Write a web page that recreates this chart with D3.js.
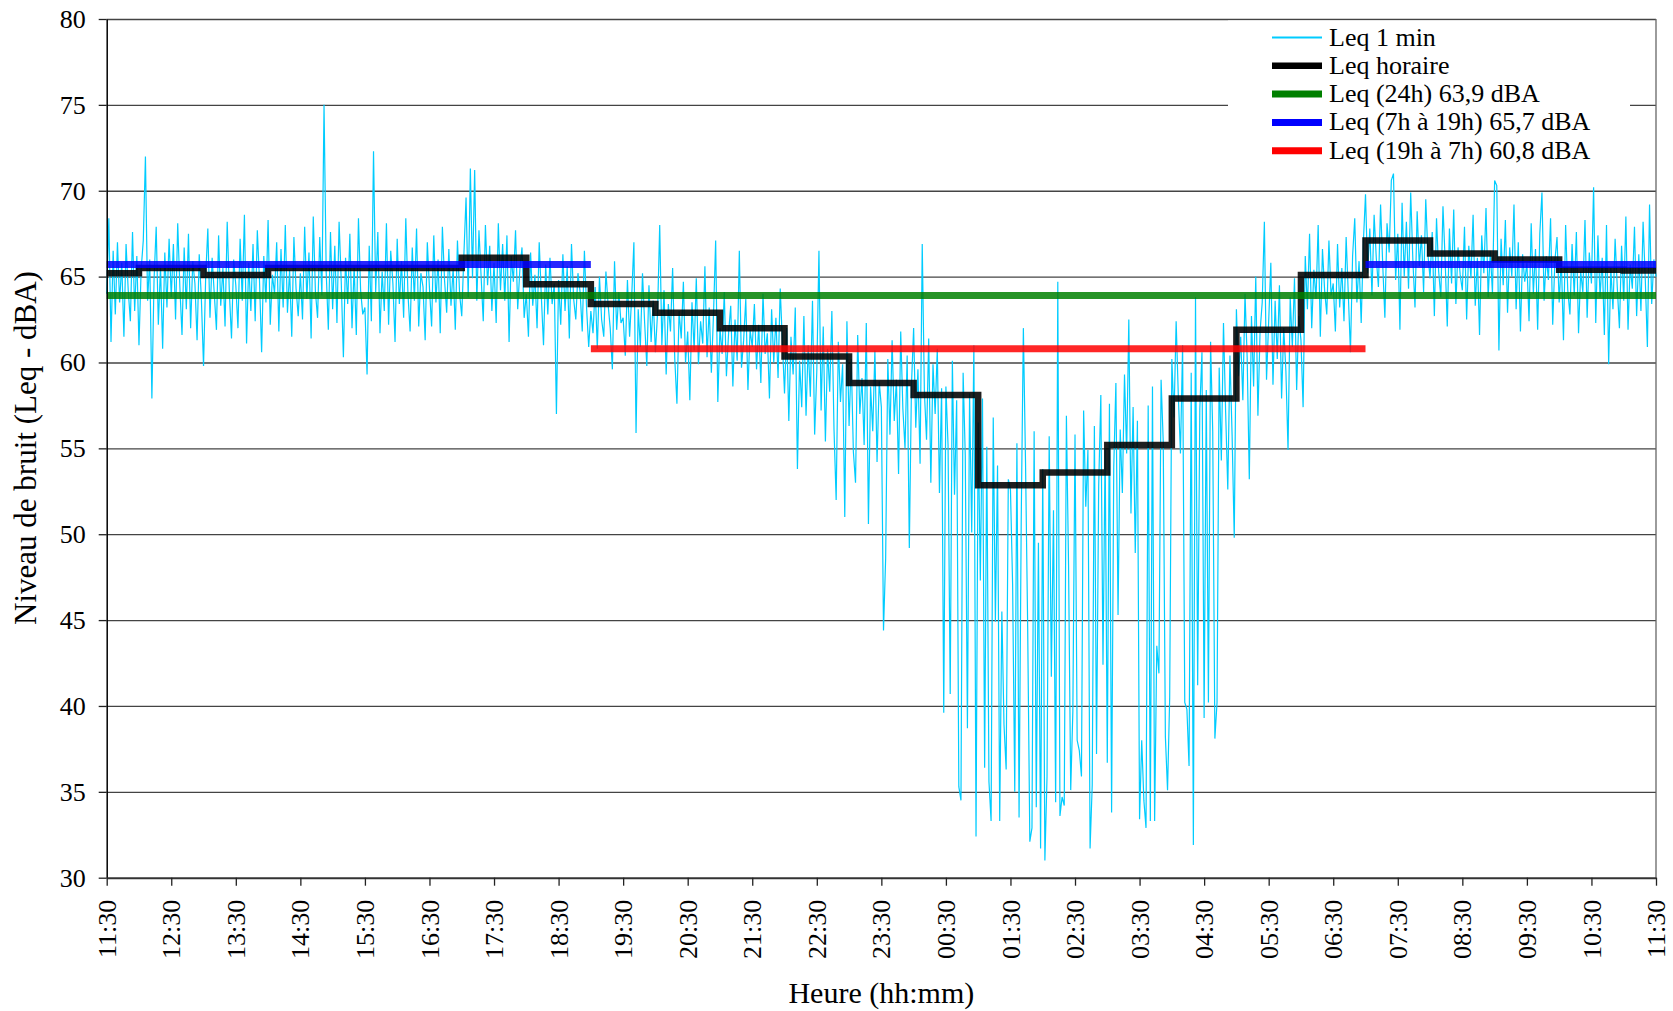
<!DOCTYPE html>
<html>
<head>
<meta charset="utf-8">
<script src="https://cdn.jsdelivr.net/npm/d3@7"></script>
<style>
  html, body { margin: 0; padding: 0; background: #fff; overflow: hidden; }
  #chart svg { display: block; }
  svg text { font-family: "Liberation Serif", "Times New Roman", serif; fill: #000; }
</style>
</head>
<body>
<div id="chart"></div>
<script>
// Tick labels (one per hour, starting 11:30)
const hourLabels = ['11:30', '12:30', '13:30', '14:30', '15:30', '16:30', '17:30', '18:30', '19:30',
  '20:30', '21:30', '22:30', '23:30', '00:30', '01:30', '02:30', '03:30', '04:30', '05:30',
  '06:30', '07:30', '08:30', '09:30', '10:30', '11:30'];
const yTickValues = [30, 35, 40, 45, 50, 55, 60, 65, 70, 75, 80];

// Leq 1 min, sampled every 2 minutes from 11:30 (one row = one hour)
const sampleStepMin = 2;
const leq1min = [
  64.0, 68.4, 61.2, 66.5, 62.8, 67.0, 63.5, 65.8, 61.5, 66.9, 64.2, 62.4, 67.6, 63.0, 66.2, 61.0, 65.4, 67.1, 72.0, 63.6, 66.0, 57.9, 64.8, 67.9, 62.2, 65.6, 60.8, 66.4, 63.2, 67.2, // 11:30
  63.8, 66.9, 62.5, 68.1, 64.4, 61.6, 66.7, 63.1, 67.5, 62.0, 65.9, 64.6, 61.3, 66.3, 63.7, 59.8, 65.0, 67.8, 62.6, 66.1, 64.0, 61.9, 67.4, 63.3, 65.5, 62.1, 68.2, 64.1, 61.4, 66.0, // 12:30
  64.5, 62.0, 67.2, 63.6, 68.6, 61.1, 65.8, 63.0, 66.9, 62.4, 67.7, 64.8, 60.6, 66.2, 63.5, 68.3, 62.2, 65.1, 64.0, 67.0, 61.8, 66.6, 63.2, 68.0, 62.9, 65.4, 61.5, 67.3, 64.3, 62.7, // 13:30
  65.2, 62.5, 67.9, 63.7, 66.4, 61.4, 68.5, 64.1, 62.6, 67.3, 63.9, 75.0, 65.3, 61.9, 67.6, 63.1, 66.8, 62.3, 68.2, 64.7, 60.3, 66.1, 63.4, 67.5, 62.0, 65.6, 61.6, 68.4, 64.2, 62.8, // 14:30
  63.2, 59.3, 66.8, 62.4, 72.3, 64.1, 67.6, 61.7, 65.3, 63.0, 68.1, 62.2, 66.5, 64.6, 61.2, 67.2, 63.4, 65.9, 62.6, 68.4, 64.0, 61.8, 66.7, 63.6, 67.8, 62.1, 65.2, 64.4, 61.3, 67.0, // 15:30
  64.3, 62.1, 67.4, 63.5, 66.0, 61.7, 67.9, 64.8, 62.9, 66.6, 63.3, 65.5, 61.9, 67.1, 64.0, 62.7, 66.3, 69.6, 63.8, 71.3, 64.9, 71.2, 63.6, 67.7, 65.0, 62.4, 68.0, 64.5, 66.8, 63.0, // 16:30
  65.8, 62.3, 68.1, 64.2, 66.9, 63.6, 67.4, 61.2, 66.2, 64.7, 67.7, 63.1, 65.4, 66.7, 62.6, 64.0, 61.5, 66.4, 63.3, 65.1, 62.0, 67.0, 63.8, 61.0, 65.7, 62.8, 66.1, 63.4, 64.6, 57.0, // 17:30
  64.8, 62.2, 66.3, 63.0, 65.6, 61.4, 66.9, 63.7, 62.5, 65.2, 64.1, 61.8, 66.5, 63.2, 60.9, 63.0, 61.7, 64.4, 60.8, 65.0, 62.5, 61.5, 65.3, 63.4, 62.0, 59.6, 65.9, 61.9, 64.1, 62.3, // 18:30
  62.6, 60.4, 64.8, 61.5, 63.9, 67.0, 55.9, 63.1, 60.9, 65.2, 62.3, 59.8, 64.5, 61.2, 63.6, 60.6, 62.9, 68.0, 61.0, 64.2, 59.3, 63.4, 61.8, 65.5, 60.2, 57.6, 63.0, 61.4, 64.7, 60.0, // 19:30
  61.8, 57.8, 63.5, 60.7, 64.9, 59.9, 62.4, 61.1, 65.6, 60.3, 63.2, 59.4, 62.8, 67.1, 57.7, 62.0, 60.5, 64.1, 59.2, 61.7, 63.3, 58.6, 62.5, 60.1, 66.5, 59.7, 61.3, 63.7, 58.4, 61.9, // 20:30
  60.9, 63.4, 59.6, 62.2, 58.8, 64.0, 60.5, 61.7, 57.9, 63.1, 60.0, 62.6, 59.1, 64.3, 61.2, 58.2, 62.0, 56.6, 61.5, 59.3, 63.2, 53.8, 60.1, 57.4, 62.7, 56.9, 61.0, 58.0, 63.6, 55.8, // 21:30
  59.5, 66.5, 57.2, 62.1, 55.4, 60.8, 58.3, 63.0, 56.1, 52.0, 61.2, 57.7, 59.9, 51.0, 62.4, 56.3, 60.2, 54.8, 53.0, 61.6, 57.0, 59.1, 55.2, 62.3, 50.6, 58.6, 56.0, 60.7, 54.2, 58.9, // 22:30
  57.4, 44.4, 48.6, 60.2, 55.8, 61.3, 56.6, 59.0, 53.5, 61.8, 57.3, 55.0, 60.4, 49.2, 58.7, 62.0, 56.2, 59.6, 54.1, 66.9, 58.3, 55.5, 61.4, 53.0, 59.9, 57.0, 60.8, 52.4, 58.5, 39.6, // 23:30
  58.6, 55.2, 40.7, 60.1, 52.3, 57.8, 35.3, 34.5, 59.4, 54.6, 38.7, 58.2, 50.1, 61.0, 32.4, 56.5, 47.3, 57.9, 36.4, 55.1, 35.6, 33.3, 56.8, 44.9, 54.0, 33.3, 45.5, 38.9, 36.3, 53.2, // 00:30
  52.6, 47.1, 35.0, 55.3, 33.5, 50.8, 62.0, 54.2, 44.6, 32.1, 32.9, 56.0, 34.1, 49.5, 31.7, 53.8, 31.0, 35.9, 55.7, 41.7, 51.4, 34.4, 64.7, 33.6, 34.7, 34.2, 56.9, 48.2, 35.1, 39.7, // 01:30
  55.8, 38.0, 37.4, 35.9, 57.2, 51.6, 54.9, 31.7, 35.4, 56.3, 37.2, 52.8, 58.1, 42.4, 55.0, 36.7, 57.6, 33.8, 53.9, 58.8, 45.3, 56.1, 52.4, 59.3, 54.7, 62.5, 51.2, 57.4, 48.9, 56.6, // 02:30
  33.4, 38.0, 34.5, 32.9, 57.5, 33.3, 58.6, 33.3, 43.5, 41.9, 59.0, 55.4, 38.2, 35.1, 40.5, 60.2, 56.8, 62.4, 58.1, 54.7, 61.0, 40.2, 39.8, 36.5, 59.4, 31.9, 63.8, 41.2, 57.3, 60.6, // 03:30
  39.3, 58.4, 40.2, 61.2, 56.0, 38.1, 40.2, 59.7, 54.3, 62.3, 57.1, 52.6, 60.4, 55.8, 49.8, 63.1, 59.2, 61.5, 57.8, 64.0, 60.3, 53.2, 62.7, 58.6, 65.0, 56.9, 61.8, 63.5, 68.2, 59.0, // 04:30
  62.4, 65.8, 58.7, 63.6, 60.2, 64.5, 57.9, 62.0, 59.5, 54.9, 63.8, 60.9, 64.9, 58.4, 62.7, 61.3, 57.4, 66.2, 63.1, 67.5, 62.0, 65.4, 63.7, 68.0, 61.5, 66.6, 64.2, 62.8, 67.1, 63.9, // 05:30
  64.6, 61.8, 66.9, 63.2, 65.5, 62.4, 67.3, 64.0, 60.6, 66.2, 68.4, 63.5, 65.9, 62.3, 67.0, 69.8, 65.2, 67.8, 63.9, 68.6, 66.1, 64.4, 69.2, 65.7, 62.6, 68.1, 66.4, 70.6, 71.0, 64.8, // 06:30
  67.5, 61.9, 69.3, 65.0, 68.2, 64.3, 69.9, 66.0, 63.2, 68.8, 65.6, 67.4, 64.1, 69.5, 66.3, 64.9, 67.6, 62.7, 68.4, 65.3, 63.8, 69.1, 66.0, 62.1, 67.8, 64.6, 68.9, 63.4, 66.7, 65.1, // 07:30
  64.2, 67.9, 62.5, 66.8, 64.9, 68.6, 63.3, 66.1, 61.6, 67.4, 65.2, 69.0, 63.8, 66.5, 64.0, 70.6, 70.3, 60.7, 67.2, 64.5, 68.3, 62.9, 66.7, 65.0, 69.2, 63.1, 67.0, 61.8, 66.3, 64.7, // 08:30
  65.8, 62.4, 68.1, 64.0, 66.6, 61.9, 67.5, 69.9, 63.6, 66.2, 64.8, 68.4, 62.2, 65.9, 67.3, 63.5, 66.0, 61.3, 68.0, 64.2, 62.8, 66.9, 63.9, 67.6, 61.7, 65.3, 64.1, 68.3, 62.6, 66.4, // 09:30
  64.6, 70.2, 62.3, 67.4, 63.8, 66.1, 61.6, 68.0, 59.9, 65.5, 63.1, 67.2, 64.4, 62.0, 66.8, 63.6, 68.5, 61.9, 65.7, 64.3, 67.9, 62.7, 66.3, 63.0, 68.2, 64.9, 60.9, 69.2, 63.4, 66.0, // 10:30
  65.0
];

// Leq horaire: start of each step (minutes after 11:30) and its level
const hourlyStartMin = [0, 30, 90, 150, 210, 270, 330, 390, 450, 510, 570, 630, 690,
  750, 810, 870, 930, 990, 1050, 1110, 1170, 1230, 1290, 1350, 1410];
const hourlyLeq = [65.2, 65.5, 65.1, 65.5, 65.5, 65.5, 66.1, 64.55, 63.4, 62.9, 62.0, 60.35, 58.8,
  58.1, 52.85, 53.6, 55.2, 57.9, 61.9, 65.1, 67.1, 66.35, 66.0, 65.4, 65.35];

// Period levels and their time spans (minutes after 11:30)
const leq24h = 63.9;
const leqDay = 65.7;
const leqNight = 60.8;
const span24h = [[0, 1440]];
const spansDay = [[0, 450], [1170, 1440]];
const spansNight = [[450, 1170]];

const legendLabels = ['Leq 1 min', 'Leq horaire', 'Leq (24h) 63,9 dBA', 'Leq (7h à 19h) 65,7 dBA', 'Leq (19h à 7h) 60,8 dBA'];
const legendColors = ['#00ccff', '#000000', '#008000', '#0000ff', '#ff0000'];
const legendWidths = [2, 6.5, 7, 7, 7];

// Dimensions
const width = 1673;
const height = 1011;
const margin = { top: 19, right: 17, bottom: 133.3, left: 106.7 };
const innerWidth = width - margin.left - margin.right;
const innerHeight = height - margin.top - margin.bottom;

const root = d3.select('#chart')
  .append('svg')
  .attr('width', width)
  .attr('height', height);

const svg = root.append('g')
  .attr('transform', `translate(${margin.left},${margin.top})`);

// Scales
const x = d3.scaleLinear().domain([0, 1440]).range([0, innerWidth]);
const y = d3.scaleLinear().domain([30, 80]).range([innerHeight, 0]);

// Gridlines
svg.append('g')
  .attr('class', 'y-grid')
  .call(d3.axisLeft(y).tickValues(yTickValues.slice(1)).tickSize(-innerWidth).tickFormat(''))
  .call(g => g.select('.domain').remove())
  .selectAll('line')
  .attr('stroke', '#444')
  .attr('stroke-width', 1.3);

// Right border
svg.append('line')
  .attr('x1', innerWidth).attr('x2', innerWidth)
  .attr('y1', 0).attr('y2', innerHeight)
  .attr('stroke', '#666')
  .attr('stroke-width', 1.3);

// Leq 1 min
const minuteLine = d3.line()
  .x((d, i) => x(i * sampleStepMin))
  .y(d => y(d));

svg.append('path')
  .datum(leq1min)
  .attr('fill', 'none')
  .attr('stroke', '#00ccff')
  .attr('stroke-width', 1.2)
  .attr('d', minuteLine);

// Leq horaire (step line)
const hourlyPoints = hourlyStartMin.map((m, i) => [m, hourlyLeq[i]]);
hourlyPoints.push([1440, hourlyLeq[hourlyLeq.length - 1]]);

svg.append('path')
  .datum(hourlyPoints)
  .attr('fill', 'none')
  .attr('stroke', '#000')
  .attr('stroke-opacity', 0.88)
  .attr('stroke-width', 6.5)
  .attr('d', d3.line().x(d => x(d[0])).y(d => y(d[1])).curve(d3.curveStepAfter));

// Period levels
const levelLine = d3.line().x(d => x(d[0])).y(d => y(d[1]));
const drawLevel = (spans, level, color) => {
  spans.forEach(s => {
    svg.append('path')
      .datum([[s[0], level], [s[1], level]])
      .attr('fill', 'none')
      .attr('stroke', color)
      .attr('stroke-opacity', 0.85)
      .attr('stroke-width', 7)
      .attr('d', levelLine);
  });
};
drawLevel(span24h, leq24h, '#008000');
drawLevel(spansDay, leqDay, '#0000ff');
drawLevel(spansNight, leqNight, '#ff0000');

// Y axis
const yAxis = svg.append('g')
  .attr('class', 'y-axis')
  .call(d3.axisLeft(y).tickValues(yTickValues).tickSize(8).tickPadding(13).tickSizeOuter(0));
yAxis.select('.domain').attr('stroke', '#000').attr('stroke-width', 1.5);
yAxis.selectAll('line').attr('stroke', '#222').attr('stroke-width', 1.3);
yAxis.selectAll('text').style('font-size', '26px');

// X axis (labels rotated, reading bottom to top)
const xAxis = svg.append('g')
  .attr('class', 'x-axis')
  .attr('transform', `translate(0,${innerHeight})`)
  .call(d3.axisBottom(x)
    .tickValues(d3.range(0, 1441, 60))
    .tickFormat((d, i) => hourLabels[i])
    .tickSize(8)
    .tickSizeOuter(0));
xAxis.select('.domain').attr('stroke', '#333').attr('stroke-width', 2);
xAxis.selectAll('line').attr('stroke', '#222').attr('stroke-width', 1.3);
xAxis.selectAll('text')
  .style('font-size', '26px')
  .style('text-anchor', 'start')
  .attr('x', 0)
  .attr('y', 0)
  .attr('dy', null)
  .each(function () {
    const len = this.getComputedTextLength();
    d3.select(this).attr('transform', `translate(8.6, ${22 + len}) rotate(-90)`);
  });

// Axis titles
const yTitle = root.append('text')
  .style('font-size', '31px')
  .text('Niveau de bruit (Leq - dBA)');
const yTitleLen = yTitle.node().getComputedTextLength();
yTitle.attr('transform', `translate(36, ${448 + yTitleLen / 2}) rotate(-90)`);

root.append('text')
  .attr('x', margin.left + innerWidth / 2)
  .attr('y', 1003)
  .style('text-anchor', 'middle')
  .style('font-size', '30px')
  .text('Heure (hh:mm)');

// Legend
const legend = root.append('g')
  .attr('class', 'legend');

legend.append('rect')
  .attr('x', 1228)
  .attr('y', 20.5)
  .attr('width', 402)
  .attr('height', 150)
  .attr('fill', '#fff');

const legendItems = legend.selectAll('.legend-item')
  .data(legendLabels)
  .enter()
  .append('g')
  .attr('class', 'legend-item')
  .attr('transform', (d, i) => `translate(1272, ${37.5 + i * 28.3})`);

legendItems.append('line')
  .attr('x1', 0)
  .attr('x2', 50)
  .attr('stroke', (d, i) => legendColors[i])
  .attr('stroke-width', (d, i) => legendWidths[i]);

legendItems.append('text')
  .attr('x', 57)
  .attr('y', 8)
  .style('font-size', '26px')
  .text(d => d);
</script>
</body>
</html>
